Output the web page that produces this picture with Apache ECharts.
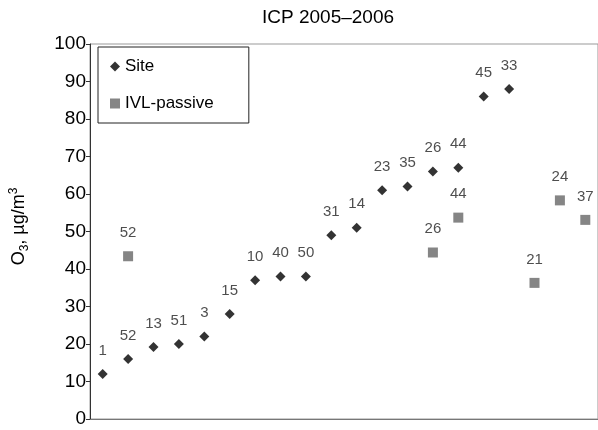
<!DOCTYPE html>
<html>
<head>
<meta charset="utf-8">
<script src="https://cdn.jsdelivr.net/npm/echarts@6/dist/echarts.min.js"></script>
<style>html,body{margin:0;padding:0;background:#fff}#c{width:598px;height:430px}</style>
</head>
<body>
<div id="c"></div>
<script>
var categories = ['1','2','3','4','5','6','7','8','9','10','11','12','13','14','15','16','17','18','19','20'];
var siteValues = [12,16,19.2,20,22,28,37,38,38,49,51,61,62,66,67,86,88,null,null,null];
var siteLabels = ['1','52','13','51','3','15','10','40','50','31','14','23','35','26','44','45','33','','',''];
var ivlValues = [null,43.4,null,null,null,null,null,null,null,null,null,null,null,44.4,53.7,null,null,36.3,58.3,53.1];
var ivlLabels = ['','52','','','','','','','','','','','','26','44','','','21','24','37'];
var yTicks = [0,100,10];

var FONT = '"Liberation Sans", Arial, sans-serif';
var chart = echarts.init(document.getElementById('c'));
chart.setOption({
  animation: false,
  textStyle: {fontFamily: FONT},
  title: {
    text: 'ICP 2005\u20132006',
    left: 262, top: 8, padding: 0,
    textStyle: {fontFamily: FONT, fontSize: 19, fontWeight: 'normal', color: '#000'}
  },
  legend: {
    orient: 'vertical',
    left: 98, top: 47,
    padding: [11, 35, 11, 12],
    itemGap: 20,
    itemWidth: 10, itemHeight: 10,
    borderColor: '#222', borderWidth: 1,
    textStyle: {fontFamily: FONT, fontSize: 17, color: '#000'},
    data: [{name: 'Site', icon: 'diamond'}, {name: 'IVL-passive', icon: 'rect'}]
  },
  grid: {left: 90, top: 44, bottom: 11, right: -5, show: true, borderColor: '#999', borderWidth: 1},
  xAxis: {
    type: 'category',
    data: categories,
    boundaryGap: true,
    axisLine: {lineStyle: {color: '#777', width: 1}},
    axisTick: {show: false},
    axisLabel: {show: false},
    splitLine: {show: false}
  },
  yAxis: {
    type: 'value',
    min: yTicks[0], max: yTicks[1], interval: yTicks[2],
    name: '{n|O}{sub|3}{n|, \u00b5g/m}{sup|3}',
    nameLocation: 'middle',
    nameRotate: 90,
    nameGap: 59,
    nameTextStyle: {
      padding: [0, 0, 0, 10],
      rich: {
        n: {fontFamily: FONT, fontSize: 18, lineHeight: 23, color: '#000'},
        sub: {fontFamily: FONT, fontSize: 12, lineHeight: 12, verticalAlign: 'bottom', color: '#000'},
        sup: {fontFamily: FONT, fontSize: 12, lineHeight: 12, verticalAlign: 'top', color: '#000'}
      }
    },
    axisLine: {show: true, lineStyle: {color: '#333', width: 1}},
    axisTick: {show: true, inside: false, length: 4, lineStyle: {color: '#333'}},
    axisLabel: {fontFamily: FONT, fontSize: 19, color: '#000', margin: 4, padding: [6, 0, 0, 0]},
    splitLine: {show: false}
  },
  series: [
    {
      name: 'Site', type: 'scatter', symbol: 'diamond', symbolSize: 10,
      itemStyle: {color: '#000'},
      data: siteValues,
      label: {show: true, position: 'top', distance: 11, fontFamily: FONT, fontSize: 15, color: '#222',
        formatter: function (p) { return siteLabels[p.dataIndex]; }}
    },
    {
      name: 'IVL-passive', type: 'scatter', symbol: 'rect', symbolSize: 10,
      itemStyle: {color: '#666'},
      data: ivlValues,
      label: {show: true, position: 'top', distance: 11, fontFamily: FONT, fontSize: 15, color: '#222',
        formatter: function (p) { return ivlLabels[p.dataIndex]; }}
    }
  ]
});
</script>
</body>
</html>
